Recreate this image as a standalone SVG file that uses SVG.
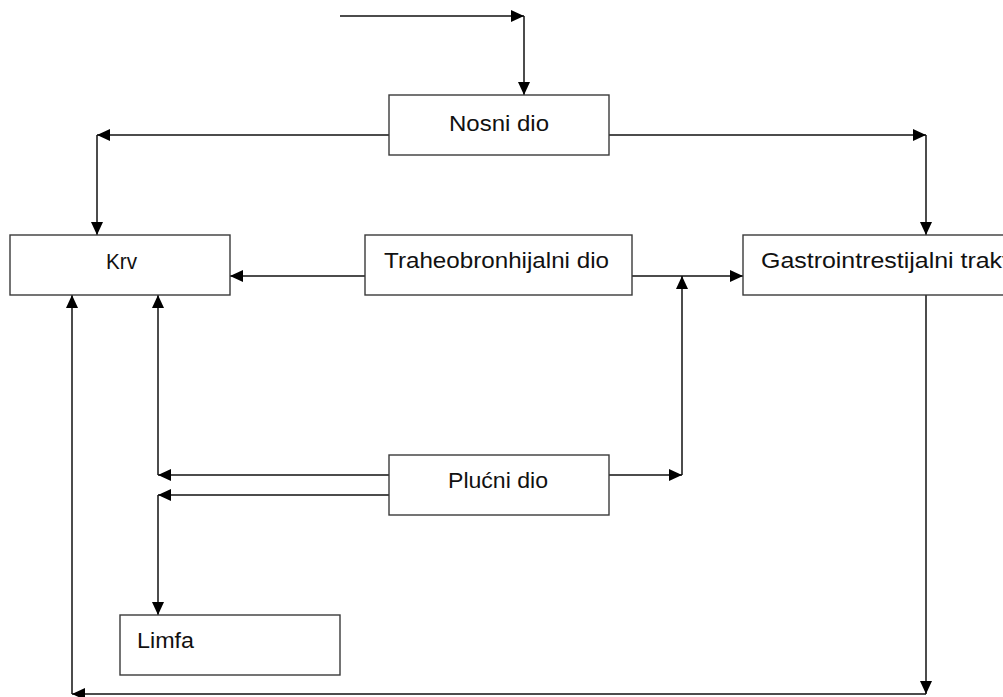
<svg xmlns="http://www.w3.org/2000/svg" width="1003" height="697" viewBox="0 0 1003 697">
<style>
.box{fill:#fff;stroke:#3a3a3a;stroke-width:1.4}
.lbl{font-family:"Liberation Sans",Arial,sans-serif;font-size:22.5px;fill:#111}
.c{fill:none;stroke:#111;stroke-width:1.5}
</style>
<defs>
<marker id="ah" markerUnits="userSpaceOnUse" markerWidth="14" markerHeight="12" viewBox="0 0 14 12" refX="13" refY="6" orient="auto">
<path d="M0,0 L13,6 L0,12 z" fill="#000"/>
</marker>
</defs>
<rect width="1003" height="697" fill="#fff"/>
<g id="connectors">
<path class="c" d="M340,16 H524" marker-end="url(#ah)"/>
<path class="c" d="M524,16 V95" marker-end="url(#ah)"/>
<path class="c" d="M389,135 H97" marker-end="url(#ah)"/>
<path class="c" d="M97,135 V235" marker-end="url(#ah)"/>
<path class="c" d="M609,135 H926" marker-end="url(#ah)"/>
<path class="c" d="M926,135 V235" marker-end="url(#ah)"/>
<path class="c" d="M365,276 H230" marker-end="url(#ah)"/>
<path class="c" d="M632,276 H743" marker-end="url(#ah)"/>
<path class="c" d="M609,475 H682" marker-end="url(#ah)"/>
<path class="c" d="M682,475 V276" marker-end="url(#ah)"/>
<path class="c" d="M389,475 H158" marker-end="url(#ah)"/>
<path class="c" d="M158,475 V295" marker-end="url(#ah)"/>
<path class="c" d="M389,495 H158" marker-end="url(#ah)"/>
<path class="c" d="M158,495 V615" marker-end="url(#ah)"/>
<path class="c" d="M926,295 V694" marker-end="url(#ah)"/>
<path class="c" d="M926,694 H72" marker-end="url(#ah)"/>
<path class="c" d="M72,694 V295" marker-end="url(#ah)"/>
</g>
<g id="nosni">
<rect class="box" x="389" y="95" width="220" height="60"/>
<text class="lbl" x="449" y="131" textLength="100" lengthAdjust="spacingAndGlyphs">Nosni dio</text>
</g>
<g id="krv">
<rect class="box" x="10" y="235" width="220" height="60"/>
<text class="lbl" x="106" y="269" textLength="31" lengthAdjust="spacingAndGlyphs">Krv</text>
</g>
<g id="traheo">
<rect class="box" x="365" y="235" width="267" height="60"/>
<text class="lbl" x="384" y="268" textLength="225" lengthAdjust="spacingAndGlyphs">Traheobronhijalni dio</text>
</g>
<g id="gastro">
<rect class="box" x="743" y="235" width="280" height="60"/>
<text class="lbl" x="761" y="268" textLength="248" lengthAdjust="spacingAndGlyphs">Gastrointrestijalni trakt</text>
</g>
<g id="plucni">
<rect class="box" x="389" y="455" width="220" height="60"/>
<text class="lbl" x="448" y="488" textLength="100" lengthAdjust="spacingAndGlyphs">Plućni dio</text>
</g>
<g id="limfa">
<rect class="box" x="120" y="615" width="220" height="60"/>
<text class="lbl" x="137" y="648" textLength="57" lengthAdjust="spacingAndGlyphs">Limfa</text>
</g>
</svg>
